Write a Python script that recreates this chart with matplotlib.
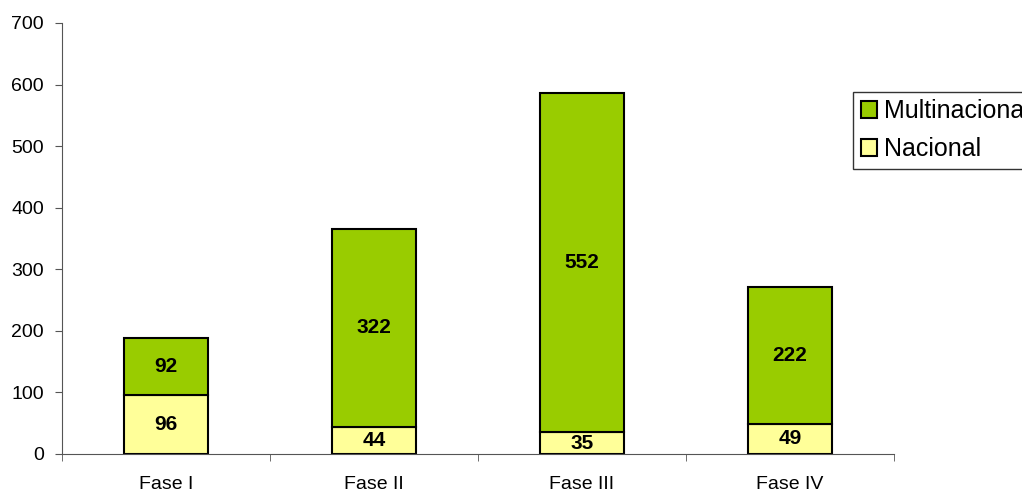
import numpy as np
import matplotlib.pyplot as plt

fases = ["Fase I", "Fase II", "Fase III", "Fase IV"]
nacional = [96, 44, 35, 49]
multinacional = [92, 322, 552, 222]

plt.rcParams['font.family'] = ['Liberation Sans', 'DejaVu Sans']

fig = plt.figure(figsize=(10.22, 4.93), dpi=100)
ax = fig.add_axes([62/1022, 39/493, 832/1022, 431/493])

x = np.arange(len(fases))
b1 = ax.bar(x, nacional, 0.4, color="#FFFF99", edgecolor="black", linewidth=1.5, label="Nacional")
b2 = ax.bar(x, multinacional, 0.4, bottom=nacional, color="#99CC00", edgecolor="black", linewidth=1.5, label="Multinacional")

# etichette dentro le barre
for i in range(len(fases)):
    ax.text(x[i], nacional[i]/2, str(nacional[i]), ha="center", va="center", fontsize=15, fontweight="bold")
    ax.text(x[i], nacional[i] + multinacional[i]/2, str(multinacional[i]), ha="center", va="center", fontsize=15, fontweight="bold")

ax.set_xlim(-0.5, 3.5)
ax.set_ylim(0, 700)
ax.set_yticks(np.arange(0, 701, 100))
ax.set_xticks(x)
ax.set_xticklabels(fases)
ax.set_xticks(np.arange(-0.5, 3.6, 1), minor=True)
ax.tick_params(axis="x", which="major", length=0, pad=16, labelsize=14)
ax.tick_params(axis="x", which="minor", length=5, color="#555555")
ax.tick_params(axis="y", length=5, pad=8, labelsize=14, color="#555555")
ax.spines["top"].set_visible(False)
ax.spines["right"].set_visible(False)
ax.spines["left"].set_color("#555555")
ax.spines["bottom"].set_color("#555555")

leg = fig.legend([b2, b1], ["Multinacional", "Nacional"], loc="upper left",
                 bbox_to_anchor=(853/1022, 1 - 92/493), fontsize=18, frameon=True,
                 fancybox=False, edgecolor="black", handlelength=0.65, handleheight=0.65,
                 handletextpad=0.3, borderpad=0.3, labelspacing=0.55, borderaxespad=0)
leg.get_frame().set_linewidth(1)
for h in leg.legend_handles:
    h.set_linewidth(1.5)

fig.savefig("out.png", dpi=100)
